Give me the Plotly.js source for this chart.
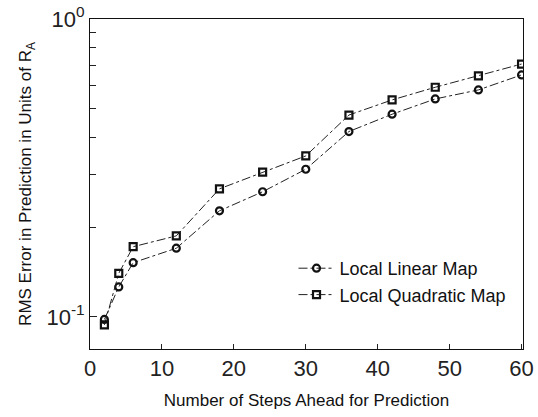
<!DOCTYPE html>
<html><head><meta charset="utf-8">
<script src="https://cdn.plot.ly/plotly-3.0.1.min.js"></script>
<style>html,body{margin:0;padding:0;background:#fff}</style>
</head><body><div id="chart" style="width:538px;height:417px"></div>
<script>
const steps = [2, 4, 6, 12, 18, 24, 30, 36, 42, 48, 54, 60];
const linearErr = [0.098, 0.126, 0.152, 0.170, 0.227, 0.263, 0.313, 0.419, 0.479, 0.539, 0.578, 0.649];
const quadErr   = [0.094, 0.140, 0.172, 0.187, 0.269, 0.306, 0.347, 0.476, 0.535, 0.590, 0.644, 0.706];
const seriesNames = ['Local Linear Map', 'Local Quadratic Map'];
const yTickVals = [0.1, 1];
const yTickText = ['10<sup>-1</sup>', '10<sup>0</sup>'];
const yMinorVals = [0.2, 0.3, 0.4, 0.5, 0.6, 0.7, 0.8, 0.9];
const xTickVals = [0, 10, 20, 30, 40, 50, 60];

const tickFont = {family: 'Liberation Sans, Arial, sans-serif', size: 22, color: '#222'};
const narrow = 'Liberation Sans Narrow, Arial Narrow, Liberation Sans, sans-serif';

const traces = [
  {x: steps, y: linearErr, name: seriesNames[0], mode: 'lines+markers', type: 'scatter',
   line: {color: '#222', width: 1, dash: 'dashdot'},
   marker: {symbol: 'circle-open', size: 7, color: '#111', line: {width: 2.2, color: '#111'}}},
  {x: steps, y: quadErr, name: seriesNames[1], mode: 'lines+markers', type: 'scatter',
   line: {color: '#222', width: 1, dash: 'dashdot'},
   marker: {symbol: 'square-open', size: 7, color: '#111', line: {width: 2.2, color: '#111'}}}
];

const layout = {
  width: 538, height: 417,
  margin: {l: 90, r: 15, t: 19, b: 68},
  paper_bgcolor: '#fff', plot_bgcolor: '#fff',
  showlegend: true,
  legend: {x: 0.47, y: 0.30, xanchor: 'left', yanchor: 'top', bgcolor: 'rgba(0,0,0,0)',
           font: {family: narrow, size: 18, color: '#111'}, tracegroupgap: 0, itemwidth: 36},
  xaxis: {
    range: [0, 60.2], tickvals: xTickVals, ticks: 'inside', ticklen: 5, tickcolor: '#222',
    showline: true, linecolor: '#111', linewidth: 1, mirror: true, showgrid: false, zeroline: false,
    tickfont: tickFont,
    title: {text: 'Number of Steps Ahead for Prediction', font: {family: narrow, size: 17, color: '#111'}, standoff: 13}
  },
  yaxis: {
    type: 'log', range: [Math.log10(0.078), 0], tickvals: yTickVals, ticktext: yTickText,
    ticks: 'inside', ticklen: 7, tickcolor: '#222',
    minor: {tickvals: yMinorVals, ticks: 'inside', ticklen: 6, tickcolor: '#222', showgrid: false},
    showline: true, linecolor: '#111', linewidth: 1, mirror: true, showgrid: false, zeroline: false,
    tickfont: tickFont,
    title: {text: 'RMS Error in Prediction in Units of R<sub>A</sub>', font: {family: narrow, size: 17, color: '#111'}, standoff: 10}
  }
};
Plotly.newPlot('chart', traces, layout, {displayModeBar: false, staticPlot: true});
</script></body></html>
